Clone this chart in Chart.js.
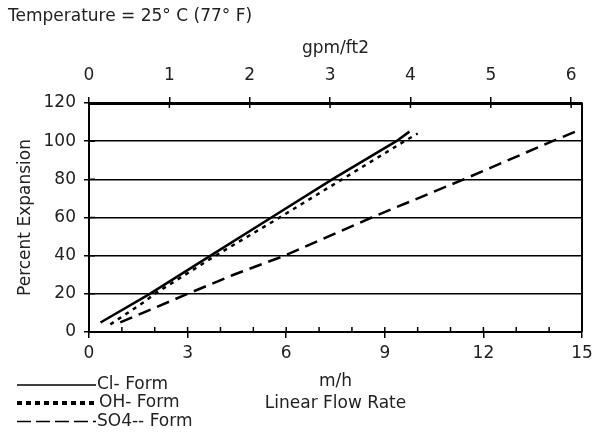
<!DOCTYPE html>
<html>
<head>
<meta charset="utf-8">
<script src="https://cdn.jsdelivr.net/npm/chart.js@4"></script>
<style>
body { margin: 0; background: #fff; }
#wrap { width: 592px; height: 444px; }
</style>
</head>
<body>
<div id="wrap"><canvas id="myChart"></canvas></div>
<script>
// x in m/h, y in percent expansion
let clX = [0.35, 1.85, 3.7, 5.55, 7.4, 9.35, 9.75];
let clY = [5, 20, 40, 60, 80, 100, 105];
let ohX = [0.65, 1.7, 2.0, 3.85, 5.8, 7.7, 9.6, 10.0];
let ohY = [4, 16, 20, 40, 60, 80, 100, 104];
let so4X = [0.95, 3.0, 4.4, 5.95, 8.6, 11.4, 14.1, 14.8];
let so4Y = [5, 20, 30, 40, 60, 80, 100, 105];

let seriesNames = ['Cl- Form', 'OH- Form', 'SO4-- Form'];
let xMax = 15;      // m/h
let yMax = 120;     // %
let yStep = 20;
let mhPerGpm = 2.445; // 1 gpm/ft2 = 2.445 m/h
let textColor = '#222';

function pts(xs, ys) {
    return xs.map((x, i) => ({x: x, y: ys[i]}));
}

Chart.defaults.font.family = "'DejaVu Sans', sans-serif";
Chart.defaults.font.size = 17;
Chart.defaults.color = textColor;

// right border, inward tick marks and the legend under the axis
const frame = {
    id: 'frame',
    afterDraw(chart) {
        const ctx = chart.ctx;
        const a = chart.chartArea;
        const sx = chart.scales.x, sx2 = chart.scales.x2, sy = chart.scales.y;
        ctx.save();
        ctx.strokeStyle = '#000';
        ctx.lineWidth = 2;
        ctx.beginPath();
        ctx.moveTo(a.right, a.top);
        ctx.lineTo(a.right, a.bottom);
        ctx.stroke();

        ctx.lineWidth = 1.5;
        ctx.beginPath();
        sx.ticks.forEach(t => {
            let px = sx.getPixelForValue(t.value);
            ctx.moveTo(px, a.bottom);
            ctx.lineTo(px, a.bottom - 5);
        });
        sx2.ticks.forEach(t => {
            let px = sx2.getPixelForValue(t.value);
            ctx.moveTo(px, a.top);
            ctx.lineTo(px, a.top + 5);
        });
        sy.ticks.forEach(t => {
            let py = sy.getPixelForValue(t.value);
            ctx.moveTo(a.left, py);
            ctx.lineTo(a.left + 6, py);
        });
        ctx.stroke();

        // legend
        let rows = [385, 403, 421.5];
        let legendWidth = [1.5, 4, 1.5];
        let legendDash = [[], [5, 4], [14, 5]];
        chart.data.datasets.forEach((ds, i) => {
            ctx.lineWidth = legendWidth[i];
            ctx.setLineDash(legendDash[i]);
            ctx.beginPath();
            ctx.moveTo(17, rows[i]);
            ctx.lineTo(96, rows[i]);
            ctx.stroke();
            ctx.setLineDash([]);
            ctx.fillStyle = textColor;
            ctx.font = "17px 'DejaVu Sans', sans-serif";
            ctx.textBaseline = 'middle';
            ctx.textAlign = 'left';
            ctx.fillText(ds.label, i == 1 ? 99 : 97, rows[i]);
        });
        ctx.restore();
    }
};

var ctx = document.getElementById('myChart').getContext('2d');
var myChart = new Chart(ctx, {
    type: 'line',
    data: {
        datasets: [{
            label: seriesNames[0],
            data: pts(clX, clY),
            borderColor: '#000',
            borderWidth: 2.5,
            pointRadius: 0,
            tension: 0
        }, {
            label: seriesNames[1],
            data: pts(ohX, ohY),
            borderColor: '#000',
            borderWidth: 2.5,
            borderDash: [4, 5],
            pointRadius: 0,
            tension: 0
        }, {
            label: seriesNames[2],
            data: pts(so4X, so4Y),
            borderColor: '#000',
            borderWidth: 2.5,
            borderDash: [13, 7],
            pointRadius: 0,
            tension: 0
        }]
    },
    options: {
        responsive: true,
        maintainAspectRatio: false,
        animation: false,
        layout: { padding: { left: 8, right: 10, top: 0, bottom: 0 } },
        plugins: {
            legend: { display: false },
            tooltip: { enabled: false },
            title: {
                display: true,
                text: 'Temperature = 25° C (77° F)',
                align: 'start',
                color: textColor,
                font: { size: 17, weight: 'normal' },
                padding: { top: 6, bottom: 0 }
            }
        },
        scales: {
            x: {
                type: 'linear',
                position: 'bottom',
                min: 0,
                max: xMax,
                ticks: {
                    stepSize: 1,
                    autoSkip: false,
                    maxRotation: 0,
                    padding: 5,
                    callback: v => (v % 3 === 0 ? v : '')
                },
                grid: {
                    drawOnChartArea: false,
                    tickLength: 6,
                    lineWidth: 1.5,
                    tickColor: c => (c.tick && c.tick.value % 3 === 0 ? '#000' : 'rgba(0,0,0,0)')
                },
                border: { color: '#000', width: 2 },
                title: {
                    display: true,
                    text: ['m/h', 'Linear Flow Rate'],
                    font: { size: 17, lineHeight: 1.3 },
                    padding: { top: 0, bottom: 29 }
                },
                afterFit(s) { s.height = 112; s.paddingLeft = 0; s.paddingRight = 0; }
            },
            x2: {
                type: 'linear',
                position: 'top',
                min: 0,
                max: xMax / mhPerGpm,
                ticks: { stepSize: 1, includeBounds: false, padding: 11, maxRotation: 0 },
                grid: { drawOnChartArea: false, tickLength: 6, lineWidth: 1.5, color: '#000' },
                border: { color: '#000', width: 3 },
                title: {
                    display: true,
                    text: 'gpm/ft2',
                    padding: { top: 12, bottom: 0 }
                },
                afterFit(s) { s.height = 76.6; s.paddingLeft = 0; s.paddingRight = 0; }
            },
            y: {
                min: 0,
                max: yMax,
                ticks: { stepSize: yStep, padding: 8 },
                grid: { color: '#000', lineWidth: 1.5, tickLength: 5 },
                border: { color: '#000', width: 2 },
                title: {
                    display: true,
                    text: 'Percent Expansion',
                    padding: { top: 7, bottom: 0 }
                },
                afterFit(s) { s.width = 81; s.paddingTop = 0; s.paddingBottom = 0; }
            }
        }
    },
    plugins: [frame]
});
</script>
</body>
</html>
